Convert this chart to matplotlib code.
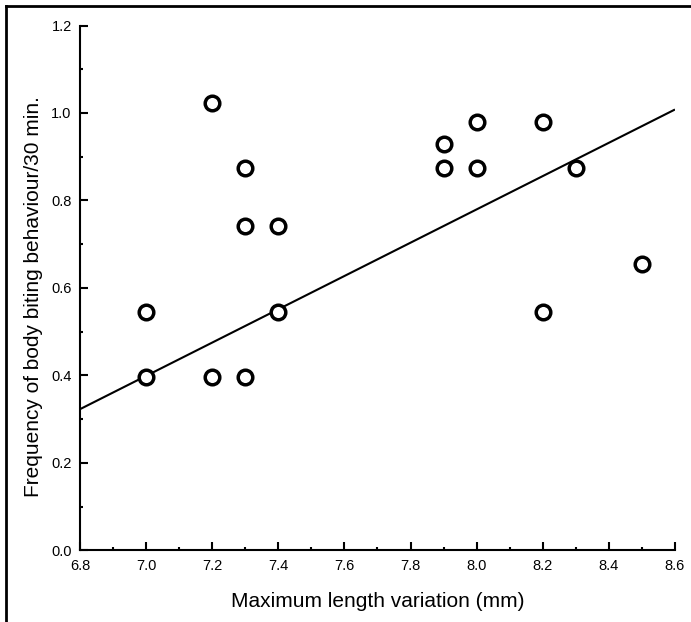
import numpy as np
import matplotlib.pyplot as plt
from matplotlib.lines import Line2D
from matplotlib.ticker import MultipleLocator

plt.rcParams['font.family'] = ['Liberation Sans', 'DejaVu Sans']

# data
length_var = [7.0, 7.0, 7.2, 7.2, 7.3, 7.3, 7.3, 7.4, 7.4,
              7.9, 7.9, 8.0, 8.0, 8.2, 8.2, 8.3, 8.5]
biting_freq = [0.545, 0.397, 1.022, 0.397, 0.875, 0.742, 0.397, 0.742, 0.545,
               0.930, 0.875, 0.980, 0.875, 0.980, 0.545, 0.875, 0.655]
fit_x = [6.8, 8.6]
fit_y = [0.323, 1.008]

fig = plt.figure(figsize=(6.91, 6.22), dpi=100)
ax = fig.add_axes([0.1158, 0.115, 0.861, 0.844])

ax.plot(fit_x, fit_y, color="black", linewidth=1.5, solid_capstyle="butt", zorder=2)
ax.plot(length_var, biting_freq, linestyle="none", marker="o", markersize=10.5,
        markerfacecolor="white", markeredgecolor="black", markeredgewidth=2.5, zorder=3)

ax.set_xlim(6.8, 8.6)
ax.set_ylim(0.0, 1.2)
ax.xaxis.set_major_locator(MultipleLocator(0.2))
ax.xaxis.set_minor_locator(MultipleLocator(0.1))
ax.yaxis.set_major_locator(MultipleLocator(0.2))
ax.yaxis.set_minor_locator(MultipleLocator(0.1))
ax.xaxis.set_major_formatter(plt.FormatStrFormatter("%.1f"))
ax.yaxis.set_major_formatter(plt.FormatStrFormatter("%.1f"))

for s in ["top", "right"]:
    ax.spines[s].set_visible(False)
for s in ["left", "bottom"]:
    ax.spines[s].set_linewidth(1.5)

ax.tick_params(which="major", direction="in", length=6, width=1.5, labelsize=10.5, pad=6)
ax.tick_params(which="minor", direction="in", length=2, width=1.5)

ax.set_xlabel("Maximum length variation (mm)", fontsize=15, labelpad=14)
ax.set_ylabel("Frequency of body biting behaviour/30 min.", fontsize=15, labelpad=6)
ax.yaxis.label.set_y(0.483)

# outer frame (only top and left edges visible in the reference)
fig.add_artist(Line2D([0.0094, 1.0], [0.9904, 0.9904], color="black", linewidth=2))
fig.add_artist(Line2D([0.0094, 0.0094], [0.0, 0.9904], color="black", linewidth=2))

fig.savefig("out.png", dpi=100)
